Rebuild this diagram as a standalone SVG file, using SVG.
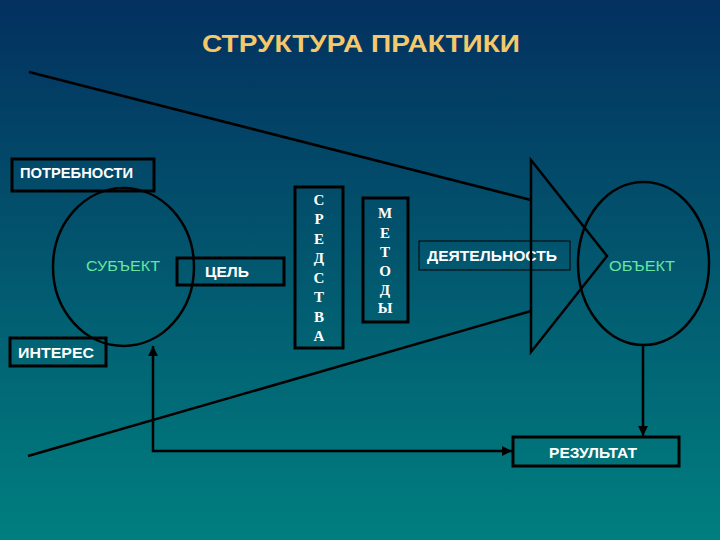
<svg xmlns="http://www.w3.org/2000/svg" width="720" height="540" viewBox="0 0 720 540">
<defs>
<linearGradient id="bg" x1="0" y1="0" x2="0" y2="1">
<stop offset="0" stop-color="#03305f"/>
<stop offset="0.5" stop-color="#02586f"/>
<stop offset="1" stop-color="#007f7f"/>
</linearGradient>
<marker id="ah" viewBox="0 0 10 10" refX="10" refY="5" markerWidth="10" markerHeight="10" markerUnits="userSpaceOnUse" orient="auto-start-reverse">
<path d="M0,0 L10,5 L0,10 z" fill="#000"/>
</marker>
<style>
.ln{fill:none;stroke:#000;stroke-width:2.5}
.bx{fill:none;stroke:#000;stroke-width:3}
.lb{font-family:"Liberation Sans",Arial,sans-serif;font-weight:bold;font-size:14px;fill:#fff}
.gr{font-family:"Liberation Sans",Arial,sans-serif;font-size:14px;fill:#66e6a0}
.sf{font-family:"Liberation Serif","Times New Roman",serif;font-weight:bold;font-size:15px;fill:#fff;text-anchor:middle}
</style>
</defs>
<rect width="720" height="540" fill="url(#bg)"/>
<text x="361" y="52" text-anchor="middle" font-family="'Liberation Sans',Arial,sans-serif" font-weight="bold" font-size="23" fill="#f5c86a" textLength="318" lengthAdjust="spacingAndGlyphs">СТРУКТУРА ПРАКТИКИ</text>
<g id="connectors">
<line class="ln" x1="29" y1="72" x2="531" y2="200"/>
<line class="ln" x1="28" y1="456" x2="531" y2="311"/>
<line class="ln" x1="643" y1="345" x2="643" y2="436" marker-end="url(#ah)"/>
<polyline class="ln" points="153,346 153,451 512,451" marker-start="url(#ah)" marker-end="url(#ah)"/>
</g>
<g id="subject">
<ellipse class="ln" cx="123.5" cy="267" rx="70.5" ry="79"/>
<text class="gr" x="86" y="271" textLength="74" lengthAdjust="spacingAndGlyphs">СУБЪЕКТ</text>
</g>
<g id="needs">
<rect class="bx" x="12" y="159" width="142" height="32"/>
<text class="lb" x="20" y="178" textLength="113" lengthAdjust="spacingAndGlyphs">ПОТРЕБНОСТИ</text>
</g>
<g id="goal">
<rect class="bx" x="177" y="258" width="107" height="27"/>
<text class="lb" x="205" y="277" textLength="44" lengthAdjust="spacingAndGlyphs">ЦЕЛЬ</text>
</g>
<g id="interest">
<rect class="bx" x="10" y="338" width="96" height="28"/>
<text class="lb" x="18" y="358" textLength="76" lengthAdjust="spacingAndGlyphs">ИНТЕРЕС</text>
</g>
<g id="means">
<rect class="bx" x="295" y="187" width="48" height="161"/>
<text class="sf" x="319" y="205">С</text>
<text class="sf" x="319" y="224">Р</text>
<text class="sf" x="319" y="244">Е</text>
<text class="sf" x="319" y="263">Д</text>
<text class="sf" x="319" y="283">С</text>
<text class="sf" x="319" y="302">Т</text>
<text class="sf" x="319" y="322">В</text>
<text class="sf" x="319" y="341">А</text>
</g>
<g id="methods">
<rect class="bx" x="363" y="198" width="45" height="124"/>
<text class="sf" x="385" y="218">М</text>
<text class="sf" x="385" y="238">Е</text>
<text class="sf" x="385" y="257">Т</text>
<text class="sf" x="385" y="276">О</text>
<text class="sf" x="385" y="295">Д</text>
<text class="sf" x="385" y="313">Ы</text>
</g>
<g id="activity">
<rect x="419" y="241" width="151" height="29" fill="none" stroke="#000" stroke-width="1"/>
<text class="lb" x="427" y="261" textLength="130" lengthAdjust="spacingAndGlyphs">ДЕЯТЕЛЬНОСТЬ</text>
<polygon class="ln" points="531,160 607,256 531,352"/>
</g>
<g id="object">
<ellipse class="ln" cx="643.5" cy="263.5" rx="65.5" ry="81.5"/>
<text class="gr" x="609" y="271" textLength="66" lengthAdjust="spacingAndGlyphs">ОБЪЕКТ</text>
</g>
<g id="result">
<rect class="bx" x="513" y="437" width="166" height="29"/>
<text class="lb" x="549" y="458" textLength="88" lengthAdjust="spacingAndGlyphs">РЕЗУЛЬТАТ</text>
</g>
</svg>
